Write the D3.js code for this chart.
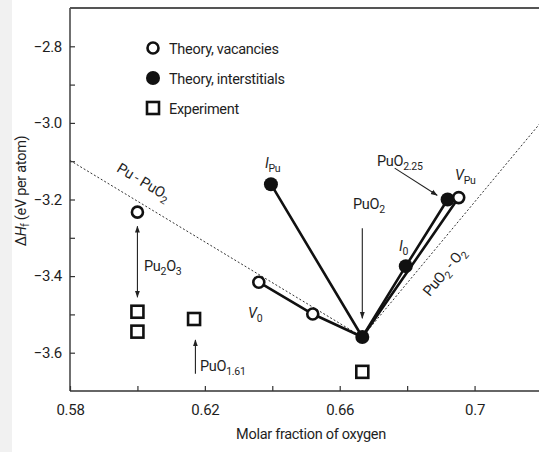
<!DOCTYPE html>
<html>
<head>
<meta charset="utf-8">
<script src="https://cdn.jsdelivr.net/npm/d3@7/dist/d3.min.js"></script>
<style>
  html, body { margin: 0; padding: 0; background: #fff; }
  svg { display: block; }
  text { font-family: "Roboto", "Liberation Sans", sans-serif; fill: #1e1e1e; letter-spacing: -0.3px; }
</style>
</head>
<body>
<svg id="chart" width="539" height="452"></svg>
<script>
// Formation enthalpy of plutonium oxides vs. oxygen molar fraction
const xTicksMajor = [0.58, 0.62, 0.66, 0.70];
const xTicksMinor = [0.60, 0.64, 0.68];
const yTicksMajor = [-3.6, -3.4, -3.2, -3.0, -2.8];
const yTicksMinor = [-3.5, -3.3, -3.1, -2.9];

// Theory, vacancies (open circles)
const vacX = [0.600, 0.636, 0.652, 0.6953];
const vacY = [-3.233, -3.416, -3.499, -3.195];
// Theory, interstitials (filled circles): I_Pu, PuO2, I_O, PuO2.25
const intX = [0.6396, 0.6667, 0.6796, 0.692];
const intY = [-3.160, -3.559, -3.374, -3.200];
// Experiment (squares)
const expX = [0.600, 0.600, 0.6168, 0.6667];
const expY = [-3.493, -3.545, -3.512, -3.650];

// Solid connecting paths (as [x, y] pairs)
const vacPath = [[vacX[1], vacY[1]], [vacX[2], vacY[2]], [intX[1], intY[1]], [vacX[3], vacY[3]]];
const intPath = [[intX[0], intY[0]], [intX[1], intY[1]], [intX[2], intY[2]], [intX[3], intY[3]]];
// Dotted tie lines Pu–PuO2 and PuO2–O2
const tiePuPuO2 = [[0.58, -3.098], [intX[1], intY[1]]];
const tiePuO2O2 = [[intX[1], intY[1]], [0.72, -2.995]];

const svg = d3.select("#chart");
svg.append("rect").attr("x", 0).attr("y", 0).attr("width", 12).attr("height", 452).attr("fill", "#f1f1f1");

const x = d3.scaleLinear().domain([0.58, 0.72]).range([70, 542]);
const y = d3.scaleLinear().domain([-3.7, -2.7]).range([391, 8]);

const defs = svg.append("defs");
function arrowMarker(id, orient) {
  defs.append("marker").attr("id", id).attr("viewBox", "0 0 10 10")
    .attr("refX", 9).attr("refY", 5).attr("markerWidth", 7).attr("markerHeight", 7)
    .attr("markerUnits", "userSpaceOnUse").attr("orient", orient)
    .append("path").attr("d", "M0,1.5 L10,5 L0,8.5 Z").attr("fill", "#222");
}
arrowMarker("arrowEnd", "auto");
arrowMarker("arrowStart", "auto-start-reverse");

// Axes
const axisColor = "#333";
const gx = svg.append("g").attr("transform", `translate(0,${y(-3.7)})`)
  .call(d3.axisBottom(x).tickValues(xTicksMajor).tickSize(-5).tickPadding(13)
    .tickFormat(d => d3.format("")(+d.toFixed(2))));
gx.select(".domain").remove();
svg.append("g").attr("transform", `translate(0,${y(-3.7)})`)
  .call(d3.axisBottom(x).tickValues(xTicksMinor).tickSize(-5).tickFormat(""))
  .select(".domain").remove();
const gy = svg.append("g").attr("transform", `translate(${x(0.58)},0)`)
  .call(d3.axisLeft(y).tickValues(yTicksMajor).tickSize(-5).tickPadding(8)
    .tickFormat(d => d3.format(".1f")(d).replace("-", "\u2212")));
gy.select(".domain").remove();
svg.append("g").attr("transform", `translate(${x(0.58)},0)`)
  .call(d3.axisLeft(y).tickValues(yTicksMinor).tickSize(-5).tickFormat(""))
  .select(".domain").remove();
svg.selectAll(".tick line").attr("stroke", axisColor).attr("stroke-width", 1.2);
svg.selectAll(".tick text").attr("font-size", 15).attr("fill", "#1e1e1e")
  .style("font-family", '"Roboto", "Liberation Sans", sans-serif');

// Frame lines: left, bottom, top
svg.append("line").attr("x1", x(0.58)).attr("x2", x(0.58)).attr("y1", y(-2.7)).attr("y2", y(-3.7))
  .attr("stroke", axisColor).attr("stroke-width", 1.4);
svg.append("line").attr("x1", x(0.58)).attr("x2", 539).attr("y1", y(-3.7)).attr("y2", y(-3.7))
  .attr("stroke", axisColor).attr("stroke-width", 1.4);
svg.append("line").attr("x1", x(0.58)).attr("x2", 539).attr("y1", y(-2.7)).attr("y2", y(-2.7))
  .attr("stroke", "#555").attr("stroke-width", 1.8);

// Axis titles
svg.append("text").attr("x", 311).attr("y", 439).attr("text-anchor", "middle").attr("font-size", 14.5)
  .text("Molar fraction of oxygen");
const yt = svg.append("text").attr("transform", "translate(26,191) rotate(-90)")
  .attr("text-anchor", "middle").attr("font-size", 14.5);
yt.append("tspan").text("\u0394");
yt.append("tspan").attr("font-style", "italic").text("H");
yt.append("tspan").attr("font-size", 10).attr("dy", 3).text("f");
yt.append("tspan").attr("dy", -3).text(" (eV per atom)");

// Tie lines
const line = d3.line().x(d => x(d[0])).y(d => y(d[1]));
[tiePuPuO2, tiePuO2O2].forEach(p => {
  svg.append("path").attr("d", line(p)).attr("fill", "none").attr("stroke", "#333")
    .attr("stroke-width", 1).attr("stroke-dasharray", "2,2");
});

// Solid paths
[vacPath, intPath].forEach(p => {
  svg.append("path").attr("d", line(p)).attr("fill", "none").attr("stroke", "#111")
    .attr("stroke-width", 2.6).attr("stroke-linejoin", "round");
});

// Arrows
function arrow(x1, y1, x2, y2, both) {
  const l = svg.append("line").attr("x1", x(x1)).attr("y1", y(y1)).attr("x2", x(x2)).attr("y2", y(y2))
    .attr("stroke", "#222").attr("stroke-width", 1.1).attr("marker-end", "url(#arrowEnd)");
  if (both) l.attr("marker-start", "url(#arrowStart)");
}
arrow(intX[1], -3.275, intX[1], -3.51);       // PuO2
arrow(0.6763, -3.118, 0.6889, -3.189);        // PuO2.25
arrow(0.600, -3.270, 0.600, -3.455, true);    // Pu2O3
arrow(0.6172, -3.655, 0.6172, -3.567);        // PuO1.61

// Markers
svg.selectAll(".exp").data(expX.map((v, i) => [v, expY[i]])).enter().append("rect")
  .attr("x", d => x(d[0]) - 6).attr("y", d => y(d[1]) - 6).attr("width", 12).attr("height", 12)
  .attr("fill", "#fff").attr("stroke", "#111").attr("stroke-width", 2.6);
svg.selectAll(".int").data(intX.map((v, i) => [v, intY[i]])).enter().append("circle")
  .attr("cx", d => x(d[0])).attr("cy", d => y(d[1])).attr("r", 7).attr("fill", "#111");
svg.selectAll(".vac").data(vacX.map((v, i) => [v, vacY[i]])).enter().append("circle")
  .attr("cx", d => x(d[0])).attr("cy", d => y(d[1])).attr("r", 5.5)
  .attr("fill", "#fff").attr("stroke", "#111").attr("stroke-width", 2.6);

// Labels with subscripts
function label(px, py, parts, opts = {}) {
  const t = svg.append("text").attr("x", px).attr("y", py).attr("font-size", 14.5);
  if (opts.rotate) t.attr("transform", `rotate(${opts.rotate},${px},${py})`).attr("text-anchor", "middle");
  let shift = 0;
  parts.forEach(p => {
    const s = t.append("tspan").text(p.t);
    const target = p.sub ? 4 : 0;
    if (target !== shift) { s.attr("dy", target - shift); shift = target; }
    if (p.sub) s.attr("font-size", 10.5);
    if (p.i) s.attr("font-style", "italic");
  });
  return t;
}
label(353, 209, [{t: "PuO"}, {t: "2", sub: true}]);
label(377, 166, [{t: "PuO"}, {t: "2.25", sub: true}]);
label(455, 180, [{t: "V", i: true}, {t: "Pu", sub: true}]);
label(265, 168, [{t: "I", i: true}, {t: "Pu", sub: true}]);
label(399, 251, [{t: "I", i: true}, {t: "0", sub: true}]);
label(248, 318, [{t: "V", i: true}, {t: "0", sub: true}]);
label(144, 271, [{t: "Pu"}, {t: "2", sub: true}, {t: "O"}, {t: "3", sub: true}]);
label(200, 371, [{t: "PuO"}, {t: "1.61", sub: true}]);
label(141, 186, [{t: "Pu - PuO"}, {t: "2", sub: true}], {rotate: 31});
label(448, 275, [{t: "PuO"}, {t: "2", sub: true}, {t: " - O"}, {t: "2", sub: true}], {rotate: -50.5});

// Legend
const lg = svg.append("g");
lg.append("circle").attr("cx", 153).attr("cy", 48).attr("r", 5.5).attr("fill", "#fff")
  .attr("stroke", "#111").attr("stroke-width", 2.6);
lg.append("circle").attr("cx", 153).attr("cy", 78).attr("r", 7).attr("fill", "#111");
lg.append("rect").attr("x", 147).attr("y", 102).attr("width", 12).attr("height", 12)
  .attr("fill", "#fff").attr("stroke", "#111").attr("stroke-width", 2.6);
lg.append("text").attr("x", 169).attr("y", 54).attr("font-size", 14.5).text("Theory, vacancies");
lg.append("text").attr("x", 169).attr("y", 84).attr("font-size", 14.5).text("Theory, interstitials");
lg.append("text").attr("x", 169).attr("y", 114).attr("font-size", 14.5).text("Experiment");
</script>
</body>
</html>
